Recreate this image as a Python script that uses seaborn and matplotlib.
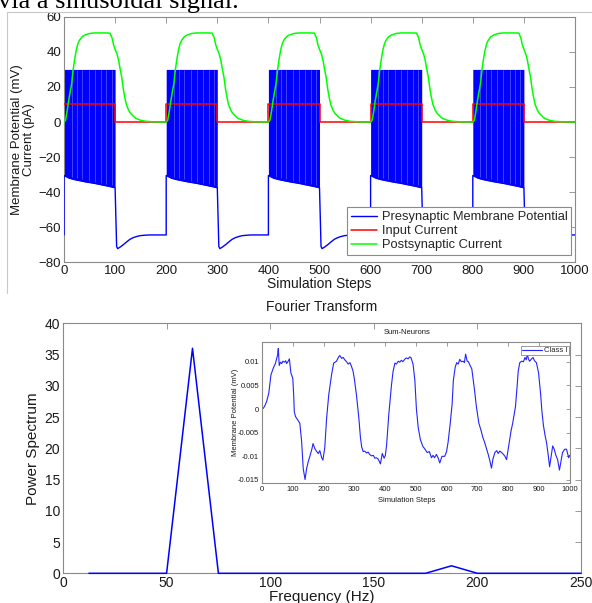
import numpy as np
import pandas as pd
import matplotlib
matplotlib.use("Agg")
import matplotlib.pyplot as plt
from matplotlib.lines import Line2D
import seaborn as sns

# ---------------- data: top panel (one stimulation period, repeated every 200 steps) ----------
cycle_starts = [0, 200, 400, 600, 800]
period_end = 1000

# presynaptic burst (input on): spike peaks and lower (reset) envelope, offsets within a period
burst_offsets = [0, 10, 20, 30, 40, 50, 60, 70, 80, 90, 100]
burst_trough_mv = [-30.5, -32.0, -32.8, -33.4, -34.0, -34.5, -35.0, -35.6, -36.2, -36.8, -37.5]
burst_peak_mv = [30, 30, 30, 30, 30, 30, 30, 30, 30, 30, 30]
burst_gap_offsets = [15, 25, 35, 48, 60, 72, 83, 93]

# presynaptic after-hyperpolarisation and recovery (input off)
rest_offsets = [100, 103, 105, 110, 116, 122, 129, 135, 142, 149, 160, 169, 180, 200]
rest_mv = [-37.5, -71.0, -72.2, -71.3, -70.0, -68.5, -66.9, -66.0, -65.3, -64.8, -64.5, -64.4, -64.4, -64.4]
initial_mv = -64.4

# input current
input_offsets = [0, 100, 100, 200]
input_pa = [10, 10, 0, 0]

# postsynaptic current
post_offsets = [0, 3, 6, 9, 12, 15, 18, 21, 24, 27, 30, 35, 40, 50, 60, 70, 80, 90, 94, 97,
                100, 104, 107, 110, 113, 116, 119, 122, 126, 130, 135, 140, 150, 160, 175, 200]
post_pa = [0, 1, 6, 12, 17, 22, 30, 36, 41, 44.5, 46.5, 48.5, 49.5, 50.5, 50.8, 50.8, 50.8, 50.7, 48, 44,
           41.5, 38.5, 35, 30, 25.6, 19, 14, 10, 7, 5, 3.5, 2.2, 1, 0.4, 0.1, 0]

# ---------------- data: Fourier transform ----------------
freq_hz = [12.5, 25.0, 37.5, 50.0, 62.5, 75.0, 87.5, 100.0, 112.5, 125.0, 137.5, 150.0,
           162.5, 175.0, 187.5, 200.0, 212.5, 225.0, 237.5, 250.0]
power = [0, 0, 0, 0, 36, 0, 0, 0, 0, 0, 0, 0, 0, 0, 1.2, 0, 0, 0, 0, 0]

# ---------------- data: inset (Sum-Neurons, Class I) ----------------
sum_steps = [0, 5, 10, 15, 22, 29, 37, 44, 51, 53, 56, 60, 64, 68, 73, 77, 80, 86, 89, 94,
             100, 103, 105, 109, 117, 123, 129, 134, 140, 145, 150, 156, 162, 166, 172, 178, 183, 188, 194, 198,
             204, 210, 217, 226, 233, 242, 250, 253, 259, 264, 269, 275, 280, 286, 291, 296,
             300, 307, 315, 320, 324, 329, 334, 340, 345, 350, 356, 362, 367, 372, 378, 385, 391, 397,
             401, 405, 412, 421, 426, 432, 437, 443, 448, 453, 458, 464, 469, 475, 480, 484, 491, 497,
             502, 508, 515, 523, 530, 537, 544, 551, 556, 561, 567, 573, 578, 585, 594,
             600, 605, 612, 618, 622, 628, 633, 638, 643, 648, 654, 658, 662, 667, 671, 675, 682, 690, 697,
             705, 712, 718, 724, 735, 741, 746, 751, 757, 763, 768, 773, 779, 785, 790, 795,
             803, 810, 815, 824, 829, 833, 838, 844, 850, 855, 859, 863, 866, 870, 875, 881, 886, 892, 899,
             906, 910, 915, 920, 925, 930, 935, 940, 945, 950, 955, 961, 967, 972, 977, 984, 990, 994, 997, 1000]
sum_mv = [0.0, 0.0002, 0.0008, 0.0016, 0.0033, 0.0072, 0.0087, 0.0097, 0.0115, 0.0128, 0.0092, 0.0099,
          0.0096, 0.0101, 0.0099, 0.0102, 0.0096, 0.0102, 0.0106, 0.0076,
          0.0065, 0.0030, -0.0006, -0.0016, -0.0024, -0.0030, -0.0070, -0.0126, -0.0149, -0.0126, -0.0112,
          -0.0099, -0.0085, -0.0073, -0.0084, -0.0090, -0.0094, -0.0088, -0.0103, -0.0108,
          -0.0082, -0.0020, 0.0030, 0.0072, 0.0097, 0.0101, 0.0111, 0.0113, 0.0107, 0.0109, 0.0104, 0.0100,
          0.0095, 0.0098, 0.0090, 0.0080,
          0.0065, 0.0030, -0.0020, -0.0060, -0.0080, -0.0090, -0.0089, -0.0093, -0.0091, -0.0096, -0.0099,
          -0.0098, -0.0104, -0.0103, -0.0106, -0.0116, -0.0094, -0.0104,
          -0.0098, -0.0077, -0.0013, 0.0051, 0.0079, 0.0097, 0.0095, 0.0101, 0.0099, 0.0103, 0.0100, 0.0105,
          0.0108, 0.0106, 0.0110, 0.0109, 0.0095, 0.0060,
          0.0000, -0.0040, -0.0065, -0.0079, -0.0085, -0.0092, -0.0090, -0.0103, -0.0098, -0.0103, -0.0096,
          -0.0104, -0.0114, -0.0100, -0.0100,
          -0.0090, -0.0070, -0.0030, 0.0010, 0.0060, 0.0088, 0.0098, 0.0095, 0.0105, 0.0100, 0.0101, 0.0098,
          0.0116, 0.0101, 0.0100, 0.0094, 0.0085, 0.0045, 0.0005,
          -0.0030, -0.0045, -0.0060, -0.0071, -0.0095, -0.0110, -0.0125, -0.0105, -0.0092, -0.0088, -0.0094,
          -0.0089, -0.0092, -0.0096, -0.0100, -0.0107,
          -0.0074, -0.0045, -0.0030, 0.0005, 0.0045, 0.0080, 0.0098, 0.0101, 0.0100, 0.0109, 0.0104, 0.0116,
          0.0106, 0.0101, 0.0105, 0.0109, 0.0102, 0.0098, 0.0077,
          0.0030, -0.0005, -0.0035, -0.0055, -0.0071, -0.0095, -0.0122, -0.0100, -0.0078, -0.0085, -0.0097,
          -0.0107, -0.0129, -0.0110, -0.0092, -0.0085, -0.0085, -0.0095, -0.0103, -0.0098]

# ---------------- assemble long tables ----------------
pre_t, pre_v = [0], [initial_mv]
in_t, in_v, post_t, post_v = [], [], [], []
for c in cycle_starts:
    pre_t += [c + o for o in burst_offsets] + [c + o for o in rest_offsets]
    pre_v += burst_trough_mv + rest_mv
    in_t += [c + o for o in input_offsets]
    in_v += input_pa
    post_t += [c + o for o in post_offsets]
    post_v += post_pa
pre_df = pd.DataFrame({"step": pre_t, "value": pre_v})
in_df = pd.DataFrame({"step": in_t, "value": in_v})
post_df = pd.DataFrame({"step": post_t, "value": post_v})
fft_df = pd.DataFrame({"freq": freq_hz, "power": power})
sum_df = pd.DataFrame({"step": sum_steps, "mv": sum_mv})

# ---------------- style ----------------
sns.set_style("white")
plt.rcParams["font.family"] = ["Liberation Sans", "DejaVu Sans"]
SPINE = "#8a8a8a"
TXT = "#1a1a1a"
W, H = 592, 603


def style_axes(ax, fs, length=4):
    for sp in ax.spines.values():
        sp.set_color(SPINE)
        sp.set_linewidth(0.8)
        sp.set_visible(True)
    ax.tick_params(direction="in", top=True, right=True, length=length, width=0.6,
                   color=SPINE, labelsize=fs, labelcolor=TXT, pad=2)


def fx(px):
    return px / W


def fy(py):
    return 1 - py / H


fig = plt.figure(figsize=(5.92, 6.03), dpi=100)

# page decorations (screenshot borders and the cut-off line of body text above the figure)
fig.add_artist(Line2D([fx(7), 1], [fy(12), fy(12)], color="#c8c8c8", lw=0.8))
fig.add_artist(Line2D([fx(7), fx(7)], [fy(12), fy(293)], color="#c8c8c8", lw=0.8))
fig.text(fx(-2), fy(8.0), "via a sinusoidal signal.", fontfamily=["Liberation Serif", "DejaVu Serif"],
         fontsize=19, va="baseline", ha="left", color="black")

# ---------------- top panel ----------------
ax1 = fig.add_axes([fx(64), fy(262.3), fx(511), 245.5 / H])
for c in cycle_starts:
    xs = np.array(burst_offsets) + c
    ax1.fill_between(xs, burst_trough_mv, burst_peak_mv, color="#0000ff", lw=0, zorder=2)
    gx = np.array(burst_gap_offsets)
    ax1.vlines(gx + c, np.interp(gx, burst_offsets, burst_trough_mv) + 1, 29.5,
               color="white", alpha=0.3, lw=0.6, zorder=2.5)
sns.lineplot(data=pre_df, x="step", y="value", ax=ax1, color="#0000ff", lw=1.0,
             sort=False, estimator=None, label="Presynaptic Membrane Potential", zorder=3)
sns.lineplot(data=in_df, x="step", y="value", ax=ax1, color="#ff0000", lw=1.1,
             sort=False, estimator=None, label="Input Current", zorder=4)
sns.lineplot(data=post_df, x="step", y="value", ax=ax1, color="#00ff00", lw=1.1,
             sort=False, estimator=None, label="Postsynaptic Current", zorder=5)
ax1.set_xlim(0, period_end)
ax1.set_ylim(-80, 60)
ax1.set_xticks(np.arange(0, 1001, 100))
ax1.set_yticks(np.arange(-80, 61, 20))
style_axes(ax1, 9.5)
ax1.set_xlabel("Simulation Steps", fontsize=10, color=TXT, labelpad=0)
ax1.set_ylabel("Membrane Potential (mV)\nCurrent (pA)", fontsize=9.5, color=TXT, linespacing=0.95)
ax1.yaxis.set_label_coords((35 - 64) / 511, 0.5)
leg = ax1.legend(loc="lower right", bbox_to_anchor=(0.993, 0.03), borderaxespad=0, fontsize=9.3,
                 frameon=True, fancybox=False, edgecolor=SPINE, framealpha=1, handlelength=2.0,
                 labelspacing=0.14, borderpad=0.3, handletextpad=0.4)
leg.get_frame().set_linewidth(0.8)

# ---------------- bottom panel ----------------
ax2 = fig.add_axes([fx(63), fy(573.3), fx(518), 250 / H])
sns.lineplot(data=fft_df, x="freq", y="power", ax=ax2, color="#0000ff", lw=1.1,
             sort=False, estimator=None, clip_on=False, zorder=5)
ax2.set_xlim(0, 250)
ax2.set_ylim(0, 40)
ax2.set_xticks(np.arange(0, 251, 50))
ax2.set_yticks(np.arange(0, 41, 5))
style_axes(ax2, 10)
ax2.set_xlabel("Frequency (Hz)", fontsize=11, color=TXT, labelpad=0)
ax2.set_ylabel("Power Spectrum", fontsize=11, color=TXT)
ax2.yaxis.set_label_coords((40 - 63) / 518, 0.5)
ax2.set_title("Fourier Transform", fontsize=10, color=TXT, pad=9)

# ---------------- inset ----------------
ax3 = fig.add_axes([fx(262), fy(483.3), fx(307.6), 141 / H])
sns.lineplot(data=sum_df, x="step", y="mv", ax=ax3, color="#2323ff", lw=0.8,
             sort=False, estimator=None, label="Class I")
ax3.set_xlim(0, 1000)
ax3.set_ylim(-0.0157, 0.0141)
ax3.set_xticks(np.arange(0, 1001, 100))
ax3.set_yticks([-0.015, -0.01, -0.005, 0, 0.005, 0.01])
ax3.set_yticklabels(["-0.015", "-0.01", "-0.005", "0", "0.005", "0.01"])
style_axes(ax3, 5.5, length=3)
ax3.set_xlabel("")
ax3.set_ylabel("")
fig.text(fx(407), fy(332), "Sum-Neurons", fontsize=5.5, ha="center", va="center", color=TXT)
fig.text(fx(407), fy(500), "Simulation Steps", fontsize=5.5, ha="center", va="center", color=TXT)
fig.text(fx(235), fy(412), "Membrane Potential (mV)", fontsize=5.5, ha="center", va="center",
         rotation=90, color=TXT)
leg3 = ax3.legend(loc="upper right", bbox_to_anchor=(0.997, 0.975), borderaxespad=0, fontsize=5.5,
                  frameon=True, fancybox=False, edgecolor=SPINE, framealpha=1, handlelength=2.6,
                  borderpad=0.15, handletextpad=0.3)
leg3.get_frame().set_linewidth(0.6)

fig.savefig("out.png", dpi=100)
